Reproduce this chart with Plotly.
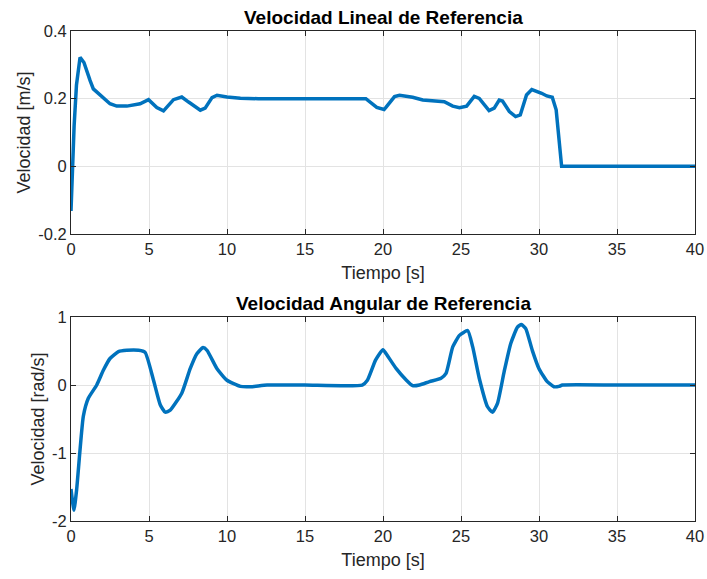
import plotly.graph_objects as go
from plotly.subplots import make_subplots

# Linear reference velocity [m/s]
t_lin = [0, 0.1, 0.2, 0.35, 0.58, 0.83, 1.0, 1.22, 1.43, 1.86, 2.5, 2.93, 3.58, 4.43, 4.97,
         5.5, 5.93, 6.57, 7.1, 7.54, 8.29, 8.6, 9.04, 9.36, 10.0, 10.86, 12.0, 15.0, 18.9,
         19.6, 20.07, 20.2, 20.74, 21.06, 21.9, 22.55, 23.2, 23.93, 24.47, 24.9, 25.36,
         25.85, 26.17, 26.8, 27.13, 27.45, 27.66, 28.1, 28.5, 28.8, 29.2, 29.54, 30.17,
         30.5, 30.85, 31.1, 31.45, 35.0, 40.0]
v_lin = [-0.132, 0.0, 0.12, 0.24, 0.322, 0.307, 0.28, 0.254, 0.229, 0.212, 0.185, 0.178,
         0.178, 0.185, 0.197, 0.174, 0.164, 0.197, 0.205, 0.19, 0.166, 0.172, 0.203, 0.21,
         0.205, 0.201, 0.2, 0.2, 0.2, 0.174, 0.168, 0.175, 0.206, 0.21, 0.204, 0.196, 0.193,
         0.191, 0.178, 0.173, 0.178, 0.207, 0.201, 0.165, 0.172, 0.196, 0.193, 0.162, 0.147,
         0.152, 0.211, 0.227, 0.216, 0.208, 0.204, 0.167, 0.0, 0.0, 0.0]

# Angular reference velocity [rad/s]
t_ang = [0, 0.19, 0.36, 0.79, 1.11, 1.65, 2.08, 2.5, 3.04, 3.58, 4.33, 4.75, 5.29, 5.72,
         6.04, 6.36, 7.1, 7.64, 8.07, 8.46, 8.72, 9.36, 10.0, 10.86, 11.5, 12.57, 15.0,
         18.67, 19.0, 19.53, 20.0, 20.2, 20.85, 21.5, 21.9, 22.34, 22.98, 23.72, 24.04,
         24.47, 24.9, 25.43, 25.75, 26.17, 26.7, 27.02, 27.34, 27.77, 28.19, 28.62, 28.87,
         29.15, 29.57, 30.0, 30.53, 30.96, 31.28, 31.5, 35.0, 40.0]
w_ang = [-1.53, -1.84, -1.54, -0.46, -0.195, 0.0, 0.22, 0.39, 0.49, 0.51, 0.51, 0.48, 0.07,
         -0.29, -0.40, -0.37, -0.12, 0.24, 0.46, 0.55, 0.51, 0.24, 0.07, -0.02, -0.025, 0.0,
         0.0, 0.0, 0.07, 0.37, 0.52, 0.46, 0.24, 0.07, -0.01, 0.0, 0.05, 0.1, 0.17, 0.56,
         0.73, 0.80, 0.56, 0.10, -0.32, -0.40, -0.27, 0.20, 0.61, 0.85, 0.89, 0.83, 0.51,
         0.24, 0.05, -0.025, -0.02, 0.0, 0.0, 0.0]

x_ticks = [0, 5, 10, 15, 20, 25, 30, 35, 40]
y1_ticks = [-0.2, 0, 0.2, 0.4]
y1_labels = ["-0.2", "0", "0.2", "0.4"]
y2_ticks = [-2, -1, 0, 1]
y2_labels = ["-2", "-1", "0", "1"]

titles = ["Velocidad Lineal de Referencia", "Velocidad Angular de Referencia"]
xlabel = "Tiempo [s]"
ylabels = ["Velocidad [m/s]", "Velocidad [rad/s]"]

color = "#0072BD"
axcol = "#262626"
font = "Liberation Sans, Arial, sans-serif"
W, H = 707, 579
ML, MR, MT, MB = 71, 12, 31, 58

fig = make_subplots(rows=2, cols=1, vertical_spacing=0.17)
fig.add_trace(go.Scatter(x=t_lin, y=v_lin, mode="lines",
                         line=dict(color=color, width=3.5, shape="linear"),
                         showlegend=False), row=1, col=1)
fig.add_trace(go.Scatter(x=t_ang, y=w_ang, mode="lines",
                         line=dict(color=color, width=3.5, shape="spline", smoothing=0.5),
                         showlegend=False), row=2, col=1)

common = dict(showgrid=True, gridcolor="#E3E3E3", gridwidth=1, automargin=False,
              showline=True, linecolor=axcol, linewidth=1, mirror="ticks", ticks="inside",
              ticklen=5, tickcolor=axcol, zeroline=False,
              tickfont=dict(family=font, size=16.5, color=axcol))

fig.update_xaxes(**common, range=[0, 40], tickvals=x_ticks, domain=[0, 1],
                 title=dict(text=xlabel, font=dict(family=font, size=18, color=axcol), standoff=9))
fig.update_yaxes(**common)
fig.update_layout(
    yaxis=dict(range=[-0.2, 0.4], tickvals=y1_ticks, ticktext=y1_labels, domain=[0.5857, 1.0],
               title=dict(text=ylabels[0], font=dict(family=font, size=18, color=axcol), standoff=2)),
    yaxis2=dict(range=[-2, 1], tickvals=y2_ticks, ticktext=y2_labels, domain=[0.0, 0.4163],
                title=dict(text=ylabels[1], font=dict(family=font, size=18, color=axcol), standoff=2)),
    width=W, height=H,
    margin=dict(l=ML, r=MR, t=MT, b=MB),
    paper_bgcolor="white", plot_bgcolor="white",
)
plot_h = H - MT - MB
for txt, ypx in zip(titles, [17, 303]):
    fig.add_annotation(text="<b>" + txt + "</b>", x=0.5, y=(H - MB - ypx) / plot_h,
                       xref="paper", yref="paper", yanchor="middle", showarrow=False,
                       font=dict(family=font, size=19, color="black"))

fig.write_html("out.html")
